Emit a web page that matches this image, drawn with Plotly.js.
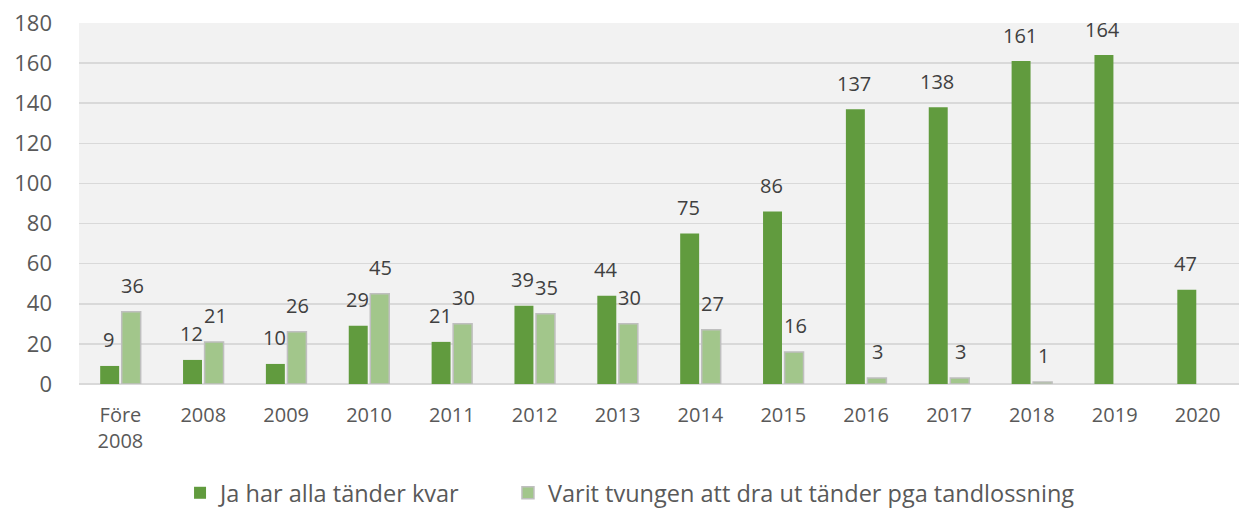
<!DOCTYPE html>
<html>
<head>
<meta charset="utf-8">
<script src="https://cdn.plot.ly/plotly-3.0.1.min.js"></script>
<style>html,body{margin:0;padding:0;background:#fff;}#chart{width:1239px;height:515px;}</style>
</head>
<body>
<div id="chart"></div>
<script>
const categories = ["Före<br>2008","2008","2009","2010","2011","2012","2013","2014","2015","2016","2017","2018","2019","2020"];
const seriesNames = ["Ja har alla tänder kvar","Varit tvungen att dra ut tänder pga tandlossning"];
const jaValues = [9,12,10,29,21,39,44,75,86,137,138,161,164,47];
const varitValues = [36,21,26,45,30,35,30,27,16,3,3,1,null,null];
const yTicks = [0,20,40,60,80,100,120,140,160,180];

const traces = [
  {type:"bar", name:seriesNames[0], x:categories, y:jaValues, legend:"legend",
   marker:{color:"#619b3e", line:{width:0}}, hoverinfo:"x+y"},
  {type:"bar", name:seriesNames[1], x:categories, y:varitValues, legend:"legend2",
   marker:{color:"#a2c68b", line:{width:1.5, color:"#bfbfbf"}}, hoverinfo:"x+y"}
];

// data labels placed through the axes (category index + value), offset to each bar of the group
const labelFont = {family:"Open Sans, sans-serif", size:20, color:"#404040"};
const annotations = [];
[[jaValues,-11.8],[varitValues,11.8]].forEach(([vals,dx])=>{
  vals.forEach((v,i)=>{
    if(v==null) return;
    annotations.push({x:i, y:v, xref:"x", yref:"y", text:String(v), showarrow:false,
      xanchor:"center", yanchor:"middle", xshift:dx, yshift:26, font:labelFont});
  });
});

const legendBase = {orientation:"h", xanchor:"left", yref:"container", y:0, yanchor:"bottom",
  font:{size:23.5, color:"#595959"}, bgcolor:"rgba(0,0,0,0)"};

const layout = {
  width:1239, height:515,
  margin:{l:79, r:0, t:23, b:131, autoexpand:false},
  paper_bgcolor:"#ffffff", plot_bgcolor:"#f2f2f2",
  barmode:"group", bargap:0.48, bargroupgap:0.12,
  font:{family:"Open Sans, sans-serif", color:"#595959"},
  xaxis:{type:"category", range:[-0.5,13.5], tickfont:{size:20, color:"#595959"}, showgrid:false, zeroline:false,
         showline:false, ticks:"", ticklabelstandoff:17, fixedrange:true},
  yaxis:{range:[0,180], tickvals:yTicks, tickfont:{size:22, color:"#595959"}, showgrid:true,
         gridcolor:"#d9d9d9", gridwidth:1.5, zeroline:true, zerolinecolor:"#d9d9d9", zerolinewidth:1.5,
         showline:false, ticks:"", ticklabelstandoff:26, fixedrange:true},
  annotations:annotations,
  showlegend:true,
  legend:Object.assign({}, legendBase, {x:0.0871}),
  legend2:Object.assign({}, legendBase, {x:0.3698}),
};
Plotly.newPlot("chart", traces, layout, {displayModeBar:false, staticPlot:true});
</script>
</body>
</html>
